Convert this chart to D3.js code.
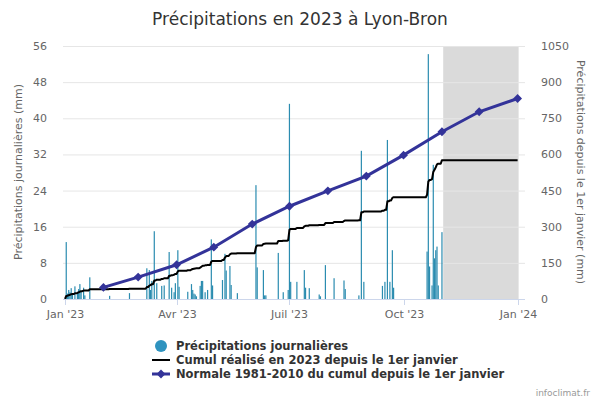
<!DOCTYPE html>
<meta charset="utf-8">
<script src="https://d3js.org/d3.v7.min.js"></script>
<style>
  body { margin: 0; background: #fff; }
  text { font-family: "DejaVu Sans", Verdana, sans-serif; }
</style>
<div id="chart"></div>
<script>

// daily rain (mm) on the rainy days
const rainDates = [
  "2023-01-02","2023-01-03","2023-01-04","2023-01-05","2023-01-06","2023-01-07","2023-01-09",
  "2023-01-11","2023-01-12","2023-01-13","2023-01-14","2023-01-16","2023-01-17","2023-01-21",
  "2023-02-06","2023-02-22",
  "2023-03-08","2023-03-10","2023-03-11","2023-03-12","2023-03-14","2023-03-16","2023-03-20",
  "2023-03-22","2023-03-26","2023-03-28","2023-03-30","2023-03-31",
  "2023-04-02","2023-04-03","2023-04-10","2023-04-13","2023-04-14","2023-04-15","2023-04-16",
  "2023-04-17","2023-04-20","2023-04-21","2023-04-22","2023-04-24","2023-04-26","2023-04-29",
  "2023-04-30",
  "2023-05-08","2023-05-10","2023-05-11","2023-05-14","2023-05-15","2023-05-20",
  "2023-06-04","2023-06-05","2023-06-10","2023-06-11","2023-06-12","2023-06-22","2023-06-26",
  "2023-06-30",
  "2023-07-01","2023-07-02","2023-07-07","2023-07-13","2023-07-14","2023-07-17","2023-07-25",
  "2023-07-26","2023-07-30",
  "2023-08-06","2023-08-14","2023-08-15","2023-08-26","2023-08-28","2023-08-30",
  "2023-09-14","2023-09-16","2023-09-18","2023-09-20","2023-09-22","2023-09-23",
  "2023-10-20","2023-10-21","2023-10-22","2023-10-24","2023-10-25","2023-10-26","2023-10-27",
  "2023-10-28","2023-10-29","2023-11-01"
];
const rainValues = [
  12.6, 1.2, 2.0, 1.5, 2.4, 1.0, 2.8,
  1.6, 2.2, 3.3, 1.8, 2.5, 0.8, 4.8,
  0.7, 1.3,
  6.8, 6.4, 2.0, 4.0, 15.0, 3.5, 2.9,
  3.0, 10.4, 2.5, 1.5, 3.5,
  10.8, 2.7, 1.6, 3.3, 2.0, 1.2, 1.0,
  0.6, 2.9, 4.0, 4.0, 1.5, 2.0, 13.2,
  3.0,
  4.2, 10.0, 6.3, 7.3, 3.1, 1.3,
  25.2, 7.0, 6.4, 0.8, 0.8, 10.2, 1.5,
  2.0,
  43.2, 3.8, 3.8, 6.4, 2.5, 2.4, 1.0,
  0.6, 7.5,
  4.6, 4.1, 2.2, 0.8, 32.8, 3.8,
  2.9, 3.8, 35.2, 3.8, 10.8, 2.5,
  10.5, 54.2, 7.2, 3.0, 29.7, 9.0, 10.8,
  11.6, 3.0, 14.8
];

// normale 1981-2010 du cumul, fin de chaque mois
const normalDates = ["2023-02-01","2023-03-01","2023-04-01","2023-05-01","2023-06-01","2023-07-01",
  "2023-08-01","2023-09-01","2023-10-01","2023-11-01","2023-12-01","2024-01-01"];
const normalValues = [48, 91, 142, 215, 311, 385, 449, 510, 597, 694, 777, 832];

const leftTicks = [0, 8, 16, 24, 32, 40, 48, 56];
const rightTicks = [0, 150, 300, 450, 600, 750, 900, 1050];
const xTickDates = ["2023-01-01","2023-04-01","2023-07-01","2023-10-01","2024-01-01"];
const xTickLabels = ["Jan '23","Avr '23","Juil '23","Oct '23","Jan '24"];
const bandStart = "2023-11-02";
const bandEnd = "2024-01-01";

const parse = d3.timeParse("%Y-%m-%d");
const barColor = "#2f93bf";
const normalColor = "#333399";

// plot area
const plotLeft = 63, plotRight = 525, plotTop = 46, plotBottom = 299;

const svg = d3.select("#chart")
  .append("svg")
    .attr("width", 600)
    .attr("height", 400);

const x = d3.scaleTime()
  .domain([parse("2023-01-01"), parse("2024-01-01")])
  .range([65, 517.6]);
const yL = d3.scaleLinear().domain([0, 56]).range([plotBottom, plotTop]);
const yR = d3.scaleLinear().domain([0, 1050]).range([plotBottom, plotTop]);

// daily series + cumul (runs on to 1 Jan 2024)
const rainByDay = new Map(rainDates.map((d, i) => [d, rainValues[i]]));
const days = d3.timeDay.range(parse("2023-01-01"), parse("2024-01-02"));
const fmt = d3.timeFormat("%Y-%m-%d");
const daily = days.map(d => rainByDay.get(fmt(d)) || 0);
const cumul = d3.cumsum(daily);

// grey band (behind grid)
svg.append("rect")
  .attr("x", x(parse(bandStart)))
  .attr("y", plotTop)
  .attr("width", x(parse(bandEnd)) - x(parse(bandStart)) + 1)
  .attr("height", plotBottom - plotTop)
  .style("fill", "#dadada");

// grid
svg.append("g")
  .selectAll("line")
  .data(leftTicks.slice(1))
  .join("line")
    .attr("x1", plotLeft).attr("x2", plotRight)
    .attr("y1", d => yL(d) + 0.5).attr("y2", d => yL(d) + 0.5)
    .style("stroke", "#e6e6e6");

// bars
svg.append("g")
  .selectAll("rect")
  .data(rainDates)
  .join("rect")
    .attr("x", d => x(parse(d)) - 0.6)
    .attr("width", 1.2)
    .attr("y", (d, i) => yL(rainValues[i]))
    .attr("height", (d, i) => plotBottom - yL(rainValues[i]))
    .style("fill", "#2b8cb0");

// cumul line
svg.append("path")
  .datum(days)
  .attr("d", d3.line()
    .x(d => x(d))
    .y((d, i) => yR(cumul[i])))
  .style("fill", "none")
  .style("stroke", "#000")
  .style("stroke-width", 2)
  .style("stroke-linejoin", "round");

// normal line + diamonds
svg.append("path")
  .datum(normalDates)
  .attr("d", d3.line()
    .x(d => x(parse(d)))
    .y((d, i) => yR(normalValues[i])))
  .style("fill", "none")
  .style("stroke", normalColor)
  .style("stroke-width", 3);

svg.append("g")
  .selectAll("path")
  .data(normalDates)
  .join("path")
    .attr("transform", (d, i) => `translate(${x(parse(d))},${yR(normalValues[i])})`)
    .attr("d", d3.symbol(d3.symbolDiamond2, 50))
    .style("fill", normalColor);

// x axis
svg.append("line")
  .attr("x1", plotLeft).attr("x2", plotRight)
  .attr("y1", plotBottom + 0.5).attr("y2", plotBottom + 0.5)
  .style("stroke", "#ccd6eb");

const xt = svg.append("g")
  .selectAll("g")
  .data(xTickDates)
  .join("g")
    .attr("transform", d => `translate(${Math.round(x(parse(d))) + 0.5},${plotBottom})`);
xt.append("line").attr("y2", 6).style("stroke", "#ccd6eb");
xt.append("text")
  .attr("y", 19)
  .attr("text-anchor", "middle")
  .style("font-size", "11px")
  .style("fill", "#666")
  .text((d, i) => xTickLabels[i]);

// left axis labels
svg.append("g")
  .selectAll("text")
  .data(leftTicks)
  .join("text")
    .attr("x", 47)
    .attr("y", d => yL(d) + 4)
    .attr("text-anchor", "end")
    .style("font-size", "11px")
    .style("fill", "#666")
    .text(d => d);

// right axis labels
svg.append("g")
  .selectAll("text")
  .data(rightTicks)
  .join("text")
    .attr("x", 541)
    .attr("y", d => yR(d) + 4)
    .style("font-size", "11px")
    .style("fill", "#666")
    .text(d => d);

// axis titles
svg.append("text")
  .attr("transform", "translate(22,172) rotate(-90)")
  .attr("text-anchor", "middle")
  .style("font-size", "11px")
  .style("fill", "#666")
  .text("Précipitations journalières (mm)");

svg.append("text")
  .attr("transform", "translate(577,172) rotate(90)")
  .attr("text-anchor", "middle")
  .style("font-size", "11px")
  .style("fill", "#666")
  .text("Précipitations depuis le 1er janvier (mm)");

// title
svg.append("text")
  .attr("x", 300)
  .attr("y", 25)
  .attr("text-anchor", "middle")
  .style("font-size", "17px")
  .style("fill", "#333")
  .text("Précipitations en 2023 à Lyon-Bron");

// legend
const legend = svg.append("g").attr("transform", "translate(152,0)");
legend.append("circle").attr("cx", 9).attr("cy", 346).attr("r", 6).style("fill", barColor);
legend.append("line").attr("x1", 0).attr("x2", 18).attr("y1", 360).attr("y2", 360)
  .style("stroke", "#000").style("stroke-width", 2);
legend.append("line").attr("x1", 0).attr("x2", 18).attr("y1", 374).attr("y2", 374)
  .style("stroke", normalColor).style("stroke-width", 3);
legend.append("path").attr("transform", "translate(9,374)")
  .attr("d", d3.symbol(d3.symbolDiamond2, 50)).style("fill", normalColor);

const legendLabels = ["Précipitations journalières",
  "Cumul réalisé en 2023 depuis le 1er janvier",
  "Normale 1981-2010 du cumul depuis le 1er janvier"];
legend.selectAll("text.item")
  .data(legendLabels)
  .join("text")
    .attr("class", "item")
    .attr("x", 24)
    .attr("y", (d, i) => 350 + i * 14)
    .style("font-size", "11.5px")
    .style("font-weight", "bold")
    .style("fill", "#333")
    .text(d => d);

// credits
svg.append("text")
  .attr("x", 590)
  .attr("y", 396)
  .attr("text-anchor", "end")
  .style("font-size", "9px")
  .style("fill", "#999")
  .text("infoclimat.fr");

</script>
